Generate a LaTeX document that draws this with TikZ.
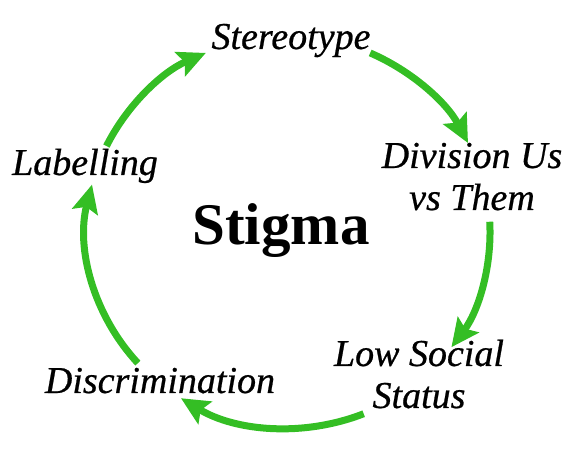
\documentclass[tikz,border=0pt]{standalone}
\usepackage{fontspec}
\setmainfont{Liberation Serif}
\newfontfamily\stepfont{Liberation Serif Italic}[FakeBold=0.6]
\usetikzlibrary{arrows.meta,calc}
\definecolor{CycleGreen}{RGB}{52,190,36}

\tikzset{
  steplabel/.style={font=\stepfont\fontsize{38}{42}\selectfont, anchor=base, inner sep=0pt, align=center},
  cyclearrow/.style={CycleGreen, line width=7pt, -{Stealth[length=28pt,width=26pt,inset=5pt]}}
}

\begin{document}
\begin{tikzpicture}[x=1pt,y=1pt]
    \useasboundingbox (0,0) rectangle (585,462);
    \coordinate (c) at (288,230);
    % labels round the cycle
    \node[steplabel] (stereo) at (291,413) {Stereotype};
    \node[steplabel] (divis) at (472,252) {Division Us\\vs Them};
    \node[steplabel] (lowstat) at (419,54) {Low Social\\Status};
    \node[steplabel] (discr) at (160,69) {Discrimination};
    \node[steplabel] (label) at (85,287) {Labelling};
    \node[font=\bfseries\fontsize{59}{62}\selectfont, anchor=base, inner sep=0pt] (stigma) at (281,217) {Stigma};
    % arcs between the labels
    \foreach \s/\e [count=\k] in {154/114,66/27,3/-36,-68/-122,-138/-194} {
      \coordinate (arc\k) at ($(c)+(\s:202 and 196)$);
      \draw[cyclearrow] (arc\k) arc[start angle=\s, end angle=\e, x radius=202, y radius=196];
    }
\end{tikzpicture}
\end{document}
